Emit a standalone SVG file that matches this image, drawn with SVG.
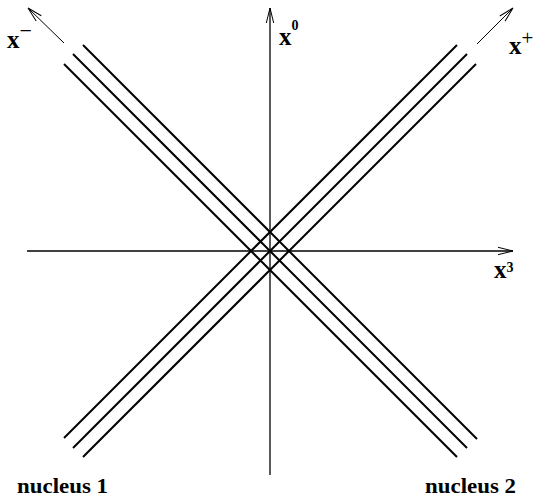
<svg xmlns="http://www.w3.org/2000/svg" width="537" height="497" viewBox="0 0 537 497">
<style>
.ln{stroke:#000;stroke-width:2;fill:none}
.ax{stroke:#000;stroke-width:1.3;fill:none}
.ar{stroke:#000;stroke-width:1;fill:none}
.t{font-family:"Liberation Serif","Times New Roman",serif;font-weight:bold;fill:#000}
.s{font-weight:normal}
</style>
<defs>
<marker id="ah" markerUnits="userSpaceOnUse" markerWidth="20" markerHeight="12" refX="0" refY="0" viewBox="-17 -6 20 12" orient="auto" overflow="visible">
<path d="M-15,-3.7 L0,0 L-15,3.7" stroke="#000" stroke-width="1" fill="none"/>
</marker>
</defs>
<rect width="537" height="497" fill="#fff"/>
<g id="connectors">
<line class="ax" x1="270" y1="475" x2="270" y2="8" marker-end="url(#ah)"/>
<line class="ax" x1="27" y1="251" x2="513" y2="251" marker-end="url(#ah)"/>
<line class="ar" x1="64" y1="43" x2="28" y2="8" marker-end="url(#ah)"/>
<line class="ar" x1="477" y1="44" x2="513" y2="8" marker-end="url(#ah)"/>
</g>
<g id="nucleus1-lines">
<line class="ln" x1="457" y1="45" x2="64" y2="438"/>
<line class="ln" x1="467" y1="54" x2="73" y2="448"/>
<line class="ln" x1="476" y1="64" x2="83" y2="457"/>
</g>
<g id="nucleus2-lines">
<line class="ln" x1="83" y1="45" x2="477" y2="439"/>
<line class="ln" x1="73" y1="54" x2="467" y2="448"/>
<line class="ln" x1="64" y1="64" x2="457" y2="457"/>
</g>
<g id="label-xminus"><text class="t" x="7" y="48" font-size="25">x<tspan class="s" font-size="22" dy="-10">−</tspan></text></g>
<g id="label-xplus"><text class="t" x="509" y="54" font-size="25">x<tspan class="s" font-size="21" dy="-9">+</tspan></text></g>
<g id="label-x0"><text class="t" x="279" y="45" font-size="25">x<tspan font-size="14" dy="-15">0</tspan></text></g>
<g id="label-x3"><text class="t" x="494" y="278" font-size="25">x<tspan font-size="14" dy="-6">3</tspan></text></g>
<g id="nucleus1"><text class="t" x="17" y="493" font-size="21" textLength="91" lengthAdjust="spacingAndGlyphs">nucleus 1</text></g>
<g id="nucleus2"><text class="t" x="425" y="493" font-size="21" textLength="91" lengthAdjust="spacingAndGlyphs">nucleus 2</text></g>
</svg>
